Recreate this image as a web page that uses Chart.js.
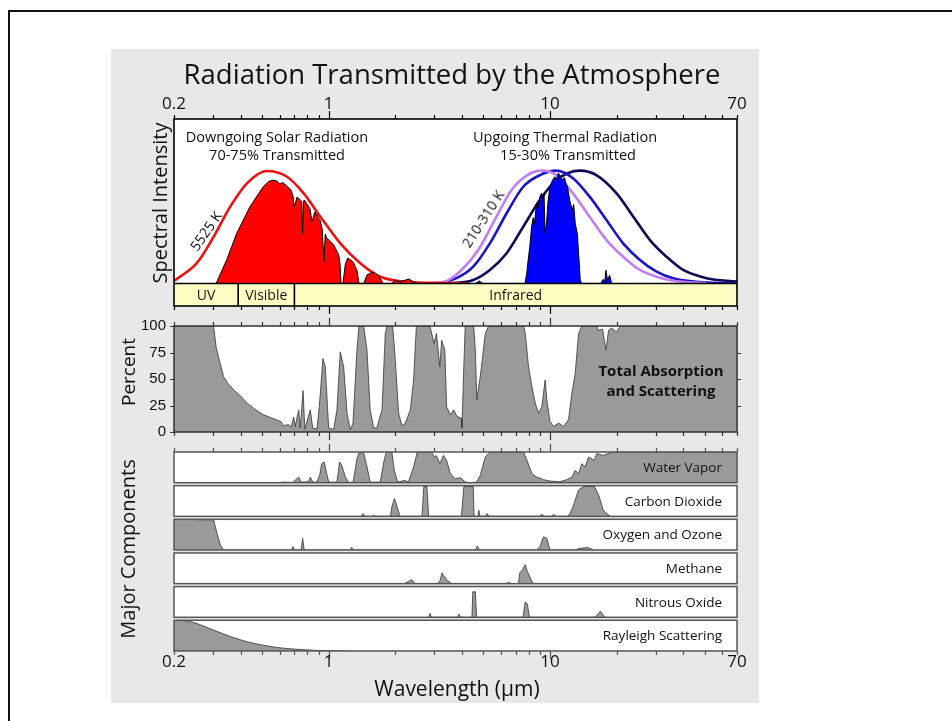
<!DOCTYPE html>
<html>
<head>
<meta charset="utf-8">
<title>Radiation Transmitted by the Atmosphere</title>
<script src="https://cdn.jsdelivr.net/npm/chart.js@4.4.1/dist/chart.umd.min.js"></script>
<style>
  html, body { margin: 0; padding: 0; width: 952px; height: 721px; overflow: hidden; background: #fff; }
  body { position: relative; font-family: "Open Sans", sans-serif; color: #111; }
  #frame { position: absolute; left: 8px; top: 10px; width: 1000px; height: 800px; border: 2px solid #111; }
  #panel { position: absolute; left: 111px; top: 49px; width: 648px; height: 654px; background: #e8e8e8; }
  canvas { position: absolute; left: 0; top: 0; }
  .t { position: absolute; white-space: nowrap; line-height: 1; transform: translate(-50%, -50%); }
  .v { transform: translate(-50%, -50%) rotate(-90deg); }
</style>
</head>
<body>
<div id="frame"></div>
<div id="panel"></div>

<canvas id="cSpectrum" width="952" height="721"></canvas>
<canvas id="cTotal" width="952" height="721"></canvas>
<canvas id="cGas0" width="952" height="721"></canvas>
<canvas id="cGas1" width="952" height="721"></canvas>
<canvas id="cGas2" width="952" height="721"></canvas>
<canvas id="cGas3" width="952" height="721"></canvas>
<canvas id="cGas4" width="952" height="721"></canvas>
<canvas id="cGas5" width="952" height="721"></canvas>

<div class="t" style="left:452px; top:74px; font-size:27.5px;">Radiation Transmitted by the Atmosphere</div>
<div class="t" style="left:277px; top:137px; font-size:14.5px;">Downgoing Solar Radiation</div>
<div class="t" style="left:277px; top:155px; font-size:14.5px;">70-75% Transmitted</div>
<div class="t" style="left:565px; top:137px; font-size:14.5px;">Upgoing Thermal Radiation</div>
<div class="t" style="left:568px; top:155px; font-size:14.5px;">15-30% Transmitted</div>
<div class="t" style="left:206px; top:231px; font-size:14px; transform: translate(-50%,-50%) rotate(-55deg);">5525 K</div>
<div class="t" style="left:483px; top:219px; font-size:14px; transform: translate(-50%,-50%) rotate(-57deg);">210-310 K</div>
<div class="t v" style="left:160px; top:203px; font-size:20px;">Spectral Intensity</div>
<div class="t v" style="left:128px; top:372px; font-size:19px;">Percent</div>
<div class="t v" style="left:128px; top:549px; font-size:20px;">Major Components</div>
<div class="t" style="left:661px; top:370px; font-size:15px; font-weight:bold;">Total Absorption</div>
<div class="t" style="left:661px; top:390px; font-size:15px; font-weight:bold;">and Scattering</div>
<div class="t" style="left:457px; top:688px; font-size:21px;">Wavelength (μm)</div>

<script>
// ---- wavelength axis (µm) ----
const tickValues = [0.2, 0.3, 0.4, 0.5, 0.6, 0.7, 0.8, 0.9, 1, 2, 3, 4, 5, 6, 7, 8, 9, 10, 20, 30, 40, 50, 60, 70];
const labelValues = [0.2, 1, 10, 70];
const tickLabels = ['0.2', '1', '10', '70'];
const percentTicks = [0, 25, 50, 75, 100];

// ---- spectral bands under the intensity panel ----
const bandNames = ['UV', 'Visible', 'Infrared'];
const bandEdges = [0.2, 0.39, 0.7, 70];

// ---- downgoing solar radiation (filled) ----
const solarWl = [0.31, 0.33, 0.346, 0.384, 0.441, 0.506, 0.535, 0.56, 0.584, 0.602, 0.62, 0.648, 0.676, 0.69, 0.70, 0.72, 0.755, 0.762, 0.768, 0.775, 0.81, 0.825, 0.84, 0.866, 0.914, 0.935, 0.952, 0.965, 0.98, 1.055, 1.11, 1.125, 1.137, 1.16, 1.19, 1.22, 1.29, 1.342, 1.37, 1.44, 1.49, 1.6, 1.70, 1.76, 1.93, 2.0, 2.1, 2.3, 2.5];
const solarVal = [0, 8.2, 14.3, 30.5, 46.7, 58.8, 62, 62.8, 62.3, 60.5, 61.4, 59.3, 56.8, 53, 46.5, 52.6, 50, 30.1, 49, 50.8, 47.1, 45, 37.4, 43.5, 38.6, 33, 13.1, 30, 27.7, 23.4, 17.3, 12, 0, 0, 12, 15.5, 13.1, 8, 0, 0, 5.2, 7, 4, 0, 0, 2, 1, 2.7, 0];

// ---- 5525 K blackbody ----
const sunWl = [0.2, 0.254, 0.302, 0.359, 0.427, 0.526, 0.648, 0.771, 0.917, 1.128, 1.389, 1.711, 2.42, 3.18, 4.2];
const sunVal = [1.5, 12.5, 28.4, 46.7, 60.9, 68.4, 64.9, 54.8, 40.6, 24.4, 12.3, 4.1, 0.7, 0.3, 0];

// ---- upgoing thermal radiation (filled) ----
const thermalWl = [4.6, 4.8, 4.9, 5.0, 7.71, 7.85, 7.97, 8.1, 8.26, 8.4, 8.5, 8.7, 8.85, 9.0, 9.16, 9.3, 9.4, 9.5, 9.65, 9.8, 10.0, 10.2, 10.52, 10.7, 10.9, 11.06, 11.3, 11.64, 11.8, 12.0, 12.3, 12.6, 12.8, 13.0, 13.3, 13.5, 13.7, 13.9, 17, 17.4, 17.7, 17.9, 18.2, 18.6, 19];
const thermalVal = [0, 1.5, 0.5, 0, 0, 6, 14.3, 22, 34.5, 40, 36, 48.9, 46, 52.8, 54.8, 50, 54.8, 30.5, 36.8, 50, 58.8, 62, 64.9, 63, 67, 66, 63, 64.3, 61, 58.8, 50, 44.7, 48, 36.8, 30, 16.2, 2, 0, 0, 2.5, 1, 8, 2, 5, 0];

// ---- 210-310 K blackbodies ----
const warmWl = [2.6, 3.35, 3.98, 4.74, 5.63, 6.7, 7.9, 9.2, 10.7, 12.7, 15.1, 18.0, 21.4, 25.5, 30.3, 36.0, 51];
const warmVal = [0, 1.1, 8.2, 20.4, 38.6, 56.8, 65.9, 68.6, 65.9, 54.8, 40.6, 26.4, 16.3, 8.2, 4.1, 1.7, 0.1];
const midWl = [2.8, 3.18, 3.78, 4.5, 5.35, 6.37, 7.57, 9.0, 10.7, 12.7, 15.1, 18.0, 21.4, 25.5, 30.3, 36.0, 51, 70];
const midVal = [0, 0.3, 3.2, 10.2, 24.4, 42.7, 58.8, 65.9, 68.6, 64.0, 52.8, 38.6, 24.4, 14.3, 7.2, 3.2, 0.5, 0.1];
const coldWl = [3.5, 4.5, 5.35, 6.37, 7.57, 9.0, 10.7, 13.65, 16.2, 20.0, 23.8, 28.3, 33.6, 40.0, 51, 70];
const coldVal = [0, 2.1, 8.2, 18.4, 34.5, 50.8, 62.9, 68.6, 65.9, 54.8, 40.6, 26.4, 16.3, 8.2, 3.2, 1.1];

// ---- total absorption and scattering (%) ----
const absWl = [0.2, 0.302, 0.31, 0.318, 0.335, 0.35, 0.372, 0.4, 0.428, 0.46, 0.508, 0.55, 0.607, 0.626, 0.66, 0.676, 0.695, 0.705, 0.732, 0.744, 0.766, 0.78, 0.826, 0.847, 0.885, 0.907, 0.942, 0.965, 1.0, 1.053, 1.09, 1.128, 1.169, 1.21, 1.252, 1.288, 1.342, 1.37, 1.439, 1.49, 1.54, 1.596, 1.65, 1.742, 1.802, 1.834, 1.946, 2.0, 2.07, 2.143, 2.22, 2.338, 2.42, 2.49, 2.865, 2.995, 3.07, 3.18, 3.24, 3.35, 3.41, 3.546, 3.67, 3.8, 3.97, 4.0, 4.08, 4.14, 4.52, 4.6, 4.67, 4.84, 5.0, 5.1, 5.28, 7.6, 7.73, 8.0, 8.29, 8.58, 8.88, 9.19, 9.51, 9.68, 10.0, 10.38, 10.94, 11.52, 12.13, 12.56, 13.0, 13.46, 13.93, 16.3, 16.5, 17.3, 17.9, 18.4, 19.0, 20.0, 20.8, 70];
const absVal = [100, 100, 80, 70.9, 52.2, 46, 39.7, 34, 27.2, 22, 16.2, 13.4, 9.9, 6, 7, 4.7, 14.1, 5, 20.9, 3.8, 39, 2.8, 20.9, 3.8, 2.8, 24, 69.4, 61.5, 3.8, 2.2, 20.9, 75.6, 61.5, 17.8, 2.2, 8.4, 77.2, 100, 100, 77.2, 20.9, 3.8, 3.8, 20.9, 92.9, 100, 100, 67.8, 17.8, 5.9, 8.4, 20.9, 49.1, 100, 100, 83.5, 92.9, 61.5, 86.6, 77.2, 24, 16.2, 20.9, 14.6, 13.1, 3.8, 61.5, 100, 100, 77.2, 30.3, 52.2, 77.2, 92.9, 100, 100, 92.9, 61.5, 42.8, 27.2, 17.8, 24, 49.1, 30.3, 9.9, 5.3, 8.4, 5.3, 11.5, 36.6, 55.3, 92.9, 100, 100, 96, 97, 77.2, 96, 98, 94.4, 100, 100];

// ---- major components (% of each absorber) ----
const gasNames = ['Water Vapor', 'Carbon Dioxide', 'Oxygen and Ozone', 'Methane', 'Nitrous Oxide', 'Rayleigh Scattering'];

const h2oWl = [0.595, 0.62, 0.69, 0.705, 0.732, 0.75, 0.81, 0.826, 0.847, 0.885, 0.91, 0.93, 0.955, 0.98, 1.0, 1.09, 1.12, 1.146, 1.19, 1.23, 1.29, 1.342, 1.37, 1.44, 1.49, 1.54, 1.71, 1.78, 1.82, 1.93, 1.98, 2.05, 2.22, 2.29, 2.42, 2.51, 2.92, 3.0, 3.07, 3.18, 3.3, 3.41, 3.55, 3.73, 3.94, 4.14, 4.36, 4.67, 4.84, 5.1, 5.35, 7.6, 7.87, 8.29, 8.7, 9.35, 10.0, 11.1, 11.9, 12.56, 13.0, 13.46, 13.93, 14.4, 14.95, 15.8, 16.3, 17.4, 18.7, 20.0, 70];
const h2oVal = [0, 2, 1, 7.6, 18.5, 2, 3, 18.5, 2, 2, 24, 62, 67.4, 29.3, 2, 2, 67.4, 56.5, 18.5, 1, 2, 78, 97, 97, 51, 2, 2, 73, 99, 99, 40, 2, 7.6, 2, 51, 99, 99, 84, 88, 62, 89, 73, 29, 13, 16, 2, 0, 2, 24, 84, 99, 99, 73, 29, 18.5, 10, 5.4, 3.3, 10, 18.5, 40, 29, 62, 51, 84, 73, 95, 89, 97, 100, 100];

const co2Wl = [1.4, 1.43, 1.46, 1.58, 1.6, 1.62, 1.9, 1.93, 1.98, 2.02, 2.05, 2.1, 2.64, 2.69, 2.78, 2.83, 3.98, 4.08, 4.5, 4.54, 4.72, 4.77, 4.82, 5.1, 5.2, 5.3, 9.0, 9.2, 9.4, 10.2, 10.38, 10.6, 12.0, 12.3, 12.7, 13.46, 14.2, 15.9, 16.7, 17.4, 18.7];
const co2Val = [0, 9, 0, 0, 4, 0, 0, 31, 58, 42, 25, 0, 0, 97, 97, 0, 0, 97, 97, 0, 0, 20, 0, 0, 9, 0, 0, 7, 0, 0, 7, 0, 0, 9, 31, 86, 97, 97, 64, 20, 0];

const o3Wl = [0.2, 0.302, 0.313, 0.324, 0.335, 0.68, 0.69, 0.70, 0.75, 0.763, 0.775, 1.25, 1.27, 1.29, 4.6, 4.7, 4.8, 8.7, 9.0, 9.35, 9.68, 10.0, 13.0, 13.46, 14.8, 15.8];
const o3Val = [100, 98, 54, 16, 0, 0, 11, 0, 0, 38, 0, 0, 9, 0, 0, 13, 0, 0, 10, 43, 38, 0, 0, 5, 8, 0];

const ch4Wl = [2.2, 2.3, 2.38, 2.45, 3.1, 3.18, 3.25, 3.41, 3.6, 6.3, 6.5, 6.7, 7.2, 7.3, 7.53, 7.73, 7.9, 8.15, 8.4];
const ch4Val = [0, 8, 13, 0, 0, 8, 35, 13, 0, 0, 4, 0, 0, 35, 46, 62, 40, 18.5, 0];

const n2oWl = [2.83, 2.87, 2.91, 3.82, 3.88, 3.94, 4.44, 4.48, 4.6, 4.66, 7.55, 7.73, 7.9, 8.08, 16.0, 16.5, 16.9, 17.7];
const n2oVal = [0, 13, 0, 0, 11, 0, 0, 83, 83, 0, 0, 50, 44, 0, 0, 11, 20, 0];

const rayWl = [0.2, 0.229, 0.263, 0.302, 0.36, 0.428, 0.508, 0.607, 0.72, 0.86, 1.02, 1.21];
const rayVal = [100, 98, 85, 68, 47, 30, 18.5, 10, 5.4, 2, 1, 0];

/* ===========================================
                  HELPERS
=========================================== */
const W = 952, H = 721;
const PLOT_LEFT = 174, PLOT_RIGHT = 737;
const GRAY = '#9a9a9a';

function pts(wl, val) {
  return wl.map((x, i) => ({ x, y: val[i] }));
}

function grayArea(wl, val, smooth) {
  return {
    data: pts(wl, val),
    fill: 'origin',
    backgroundColor: GRAY,
    borderColor: '#333',
    borderWidth: 0.8,
    cubicInterpolationMode: smooth ? 'monotone' : 'default'
  };
}

function curve(wl, val, color) {
  return {
    data: pts(wl, val),
    fill: false,
    borderColor: color,
    borderWidth: 2.6,
    cubicInterpolationMode: 'monotone'
  };
}

function drawXTicks(ctx, xs, yEdge, dir, color) {
  ctx.strokeStyle = color;
  ctx.lineWidth = 1.2;
  ctx.beginPath();
  tickValues.forEach(v => {
    const px = Math.round(xs.getPixelForValue(v)) + 0.5;
    const len = (v === 1 || v === 10) ? 8 : 4;
    ctx.moveTo(px, yEdge);
    ctx.lineTo(px, yEdge + dir * len);
  });
  ctx.stroke();
}

function drawXLabels(ctx, xs, yBase) {
  ctx.fillStyle = '#111';
  ctx.font = '17px "Open Sans"';
  ctx.textAlign = 'center';
  ctx.textBaseline = 'alphabetic';
  labelValues.forEach((v, i) => ctx.fillText(tickLabels[i], xs.getPixelForValue(v), yBase));
}

function drawBands(chart) {
  const { ctx, chartArea: a, scales: { x, y } } = chart;
  const y0 = y.getPixelForValue(0);
  const y1 = y.getPixelForValue(y.min);
  ctx.fillStyle = '#ffffc4';
  ctx.fillRect(a.left, y0, a.width, y1 - y0);
  ctx.strokeStyle = '#000';
  ctx.lineWidth = 1.6;
  ctx.beginPath();
  ctx.moveTo(a.left, y0);
  ctx.lineTo(a.right, y0);
  bandEdges.slice(1, -1).forEach(v => {
    const px = x.getPixelForValue(v);
    ctx.moveTo(px, y0);
    ctx.lineTo(px, y1);
  });
  ctx.stroke();
  ctx.fillStyle = '#111';
  ctx.font = '14px "Open Sans"';
  ctx.textAlign = 'center';
  ctx.textBaseline = 'middle';
  bandNames.forEach((name, i) => {
    const cx = (x.getPixelForValue(bandEdges[i]) + x.getPixelForValue(bandEdges[i + 1])) / 2;
    ctx.fillText(name, cx, (y0 + y1) / 2 + 1);
  });
}

// white plot background, frame, ticks and labels
const decor = {
  id: 'decor',
  beforeDatasetsDraw(chart) {
    const { ctx, chartArea: a } = chart;
    ctx.save();
    ctx.fillStyle = '#fff';
    ctx.fillRect(a.left, a.top, a.width, a.height);
    ctx.restore();
  },
  afterDatasetsDraw(chart, args, o) {
    const { ctx, chartArea: a, scales: { x, y } } = chart;
    ctx.save();
    if (o.bands) drawBands(chart);

    if (o.name) {
      ctx.fillStyle = '#111';
      ctx.font = '13.5px "Open Sans"';
      ctx.textAlign = 'right';
      ctx.textBaseline = 'middle';
      ctx.fillText(o.name, a.right - 15, (a.top + a.bottom) / 2 + 1);
    }

    ctx.strokeStyle = o.frame;
    ctx.lineWidth = o.frameWidth;
    ctx.strokeRect(a.left, a.top, a.width, a.height);

    if (o.topTicks) drawXTicks(ctx, x, a.top, -1, o.frame);
    if (o.bottomTicks) drawXTicks(ctx, x, a.bottom, 1, o.frame);
    if (o.topLabels) drawXLabels(ctx, x, a.top - 10);
    if (o.bottomLabels) drawXLabels(ctx, x, a.bottom + 16);

    if (o.yTicks) {
      ctx.strokeStyle = o.frame;
      ctx.lineWidth = 1.2;
      ctx.beginPath();
      percentTicks.forEach(v => {
        const py = Math.round(y.getPixelForValue(v)) + 0.5;
        ctx.moveTo(a.left - 4, py);
        ctx.lineTo(a.left, py);
        if (v > 0 && v < 100) {
          ctx.moveTo(a.right, py);
          ctx.lineTo(a.right + 4, py);
        }
      });
      ctx.stroke();
      ctx.fillStyle = '#111';
      ctx.font = '15px "Liberation Sans"';
      ctx.textAlign = 'right';
      ctx.textBaseline = 'middle';
      percentTicks.forEach(v => ctx.fillText(String(v), a.left - 8, y.getPixelForValue(v)));
    }
    ctx.restore();
  }
};

function makeChart(id, top, bottom, yMin, yMax, datasets, deco) {
  return new Chart(document.getElementById(id), {
    type: 'line',
    data: { datasets },
    options: {
      responsive: false,
      animation: false,
      events: [],
      layout: { padding: { left: PLOT_LEFT, right: W - PLOT_RIGHT, top, bottom: H - bottom } },
      scales: {
        x: { type: 'logarithmic', min: 0.2, max: 70, display: false },
        y: { type: 'linear', min: yMin, max: yMax, display: false }
      },
      elements: { point: { radius: 0 }, line: { tension: 0 } },
      plugins: {
        legend: { display: false },
        tooltip: { enabled: false },
        decor: Object.assign({ frame: '#444', frameWidth: 1.5 }, deco)
      }
    },
    plugins: [decor]
  });
}

/* ===========================================
           SPECTRAL INTENSITY PANEL
=========================================== */
makeChart('cSpectrum', 119, 306, -13.7, 100, [
  { data: pts(solarWl, solarVal), fill: 'origin', backgroundColor: '#ff0000', borderColor: '#000', borderWidth: 1 },
  { data: pts(thermalWl, thermalVal), fill: 'origin', backgroundColor: '#0000ff', borderColor: '#000', borderWidth: 1 },
  curve(sunWl, sunVal, '#ee1111'),
  curve(warmWl, warmVal, '#c27ef0'),
  curve(midWl, midVal, '#1a14c8'),
  curve(coldWl, coldVal, '#0c0c55')
], { frame: '#000', frameWidth: 1.6, bands: true, topTicks: true, topLabels: true, bottomTicks: true });

/* ===========================================
        TOTAL ABSORPTION AND SCATTERING
=========================================== */
makeChart('cTotal', 326, 432, 0, 100, [grayArea(absWl, absVal, false)],
  { frame: '#333', topTicks: true, bottomTicks: true, yTicks: true });

/* ===========================================
             MAJOR COMPONENTS
=========================================== */
const gasSeries = [
  [h2oWl, h2oVal, false],
  [co2Wl, co2Val, false],
  [o3Wl, o3Val, false],
  [ch4Wl, ch4Val, false],
  [n2oWl, n2oVal, false],
  [rayWl, rayVal, true]
];

gasSeries.forEach(([wl, val, smooth], i) => {
  const top = 452 + i * 33.65;
  makeChart('cGas' + i, top, top + 30.7, 0, 100, [grayArea(wl, val, smooth)], {
    frame: '#555',
    name: gasNames[i],
    topTicks: i === 0,
    bottomTicks: i === gasSeries.length - 1,
    bottomLabels: i === gasSeries.length - 1
  });
});
</script>
</body>
</html>
